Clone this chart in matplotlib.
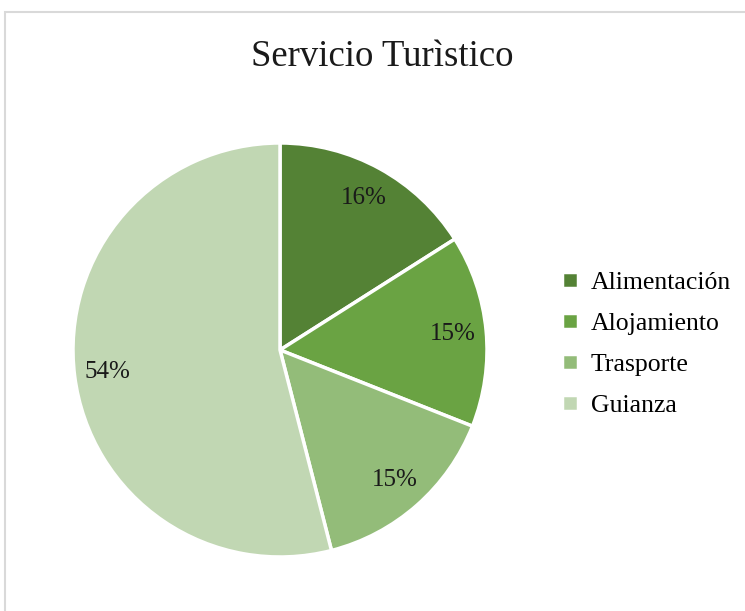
import matplotlib.pyplot as plt
from matplotlib.patches import Rectangle

categories = ["Alimentación", "Alojamiento", "Trasporte", "Guianza"]
values = [16, 15, 15, 54]
colors = ["#548235", "#6aa343", "#93bc79", "#c1d7b3"]
title = "Servicio Turìstico"

plt.rcParams['font.family'] = ['Liberation Serif', 'DejaVu Serif']

fig = plt.figure(figsize=(7.45, 6.11), dpi=100)

# light grey chart frame
fig.patches.append(Rectangle((5 / 745, -0.1), 1.2, 1 - 12 / 611 + 0.1,
                             transform=fig.transFigure, fill=False,
                             edgecolor="#d9d9d9", linewidth=1.5))

ax = fig.add_axes([0.098, 0.0884, 0.5557, 0.6776])
wedges, texts, autotexts = ax.pie(
    values, colors=colors, startangle=90, counterclock=False,
    autopct="%1.0f%%", pctdistance=0.84,
    wedgeprops=dict(edgecolor="white", linewidth=2.5),
    textprops=dict(fontsize=18, color="#1a1a1a"))
ax.set_xlim(-1.0, 1.0)
ax.set_ylim(-1.0, 1.0)
ax.set_aspect("equal")

fig.text(0.513, 1 - 57 / 611, title, ha="center", va="center", fontsize=26.5, color="#1a1a1a")

fig.legend(wedges, categories, loc="center left", bbox_to_anchor=(0.755, 0.436),
           frameon=False, fontsize=18.5, handlelength=0.6, handleheight=0.6,
           handletextpad=0.5, labelspacing=0.73, borderpad=0, borderaxespad=0)

fig.savefig("out.png", dpi=100)
